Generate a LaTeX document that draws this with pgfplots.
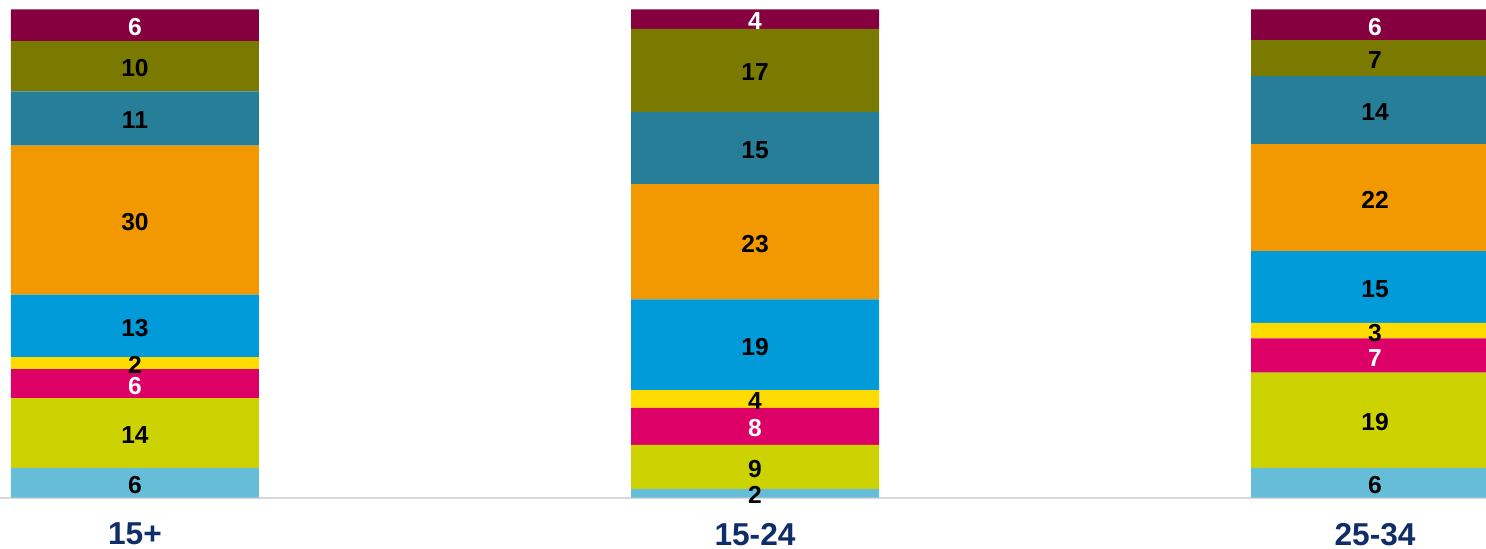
\documentclass[border=0pt]{standalone}
\usepackage{pgfplots}
\pgfplotsset{compat=1.18}
\usepackage{fontspec}
\setmainfont{Liberation Sans}

\definecolor{cLightblue}{HTML}{66BDD8}
\definecolor{cLime}{HTML}{CDD300}
\definecolor{cMagenta}{HTML}{DC0067}
\definecolor{cYellow}{HTML}{FFDC00}
\definecolor{cBlue}{HTML}{009BD8}
\definecolor{cOrange}{HTML}{F29800}
\definecolor{cTeal}{HTML}{277E98}
\definecolor{cOlive}{HTML}{7A7A00}
\definecolor{cMaroon}{HTML}{860040}
\definecolor{cNavy}{HTML}{0F2D69}

\pgfplotsset{
  seg/.style={fill=#1, draw=none},
  whitelab/.style={every node near coord/.append style={text=white}},
}

\begin{document}
\begin{tikzpicture}
\useasboundingbox (0,-0.513cm) rectangle (14.86cm,4.977cm);
\begin{axis}[
  at={(0,0)}, anchor=south west,
  scale only axis, width=14.86cm, height=4.977cm,
  ybar stacked, bar width=2.48cm,
  xmin=-0.2177, xmax=2.1790,
  ymin=0, ymax=101.9,
  axis x line=bottom, axis y line=none,
  axis line style={-, draw=black!15, line width=0.6pt},
  xtick=data, xticklabels={15+,15-24,25-34},
  major tick length=0pt,
  x tick label style={font=\fontsize{9pt}{10pt}\bfseries, text=cNavy, yshift=-0.13cm},
  ytick=\empty,
  point meta=explicit symbolic,
  nodes near coords,
  every node near coord/.style={font=\fontsize{7pt}{8pt}\bfseries, text=black, anchor=center, inner sep=0pt, yshift=-0.02cm},
  clip=true,
]
\addplot[seg=cLightblue] coordinates {(0,6.1) [6] (1,1.8) [2] (2,6.1) [6]};
\addplot[seg=cLime] coordinates {(0,14.3) [14] (1,9.0) [9] (2,19.5) [19]};
\addplot[seg=cMagenta, whitelab] coordinates {(0,5.9) [6] (1,7.6) [8] (2,7.0) [7]};
\addplot[seg=cYellow] coordinates {(0,2.5) [2] (1,3.6) [4] (2,3.2) [3]};
\addplot[seg=cBlue] coordinates {(0,12.8) [13] (1,18.6) [19] (2,14.7) [15]};
\addplot[seg=cOrange] coordinates {(0,30.5) [30] (1,23.6) [23] (2,21.9) [22]};
\addplot[seg=cTeal] coordinates {(0,11.1) [11] (1,14.8) [15] (2,13.9) [14]};
\addplot[seg=cOlive] coordinates {(0,10.3) [10] (1,17.0) [17] (2,7.4) [7]};
\addplot[seg=cMaroon, whitelab] coordinates {(0,6.5) [6] (1,4.0) [4] (2,6.3) [6]};
\end{axis}
\end{tikzpicture}
\end{document}
